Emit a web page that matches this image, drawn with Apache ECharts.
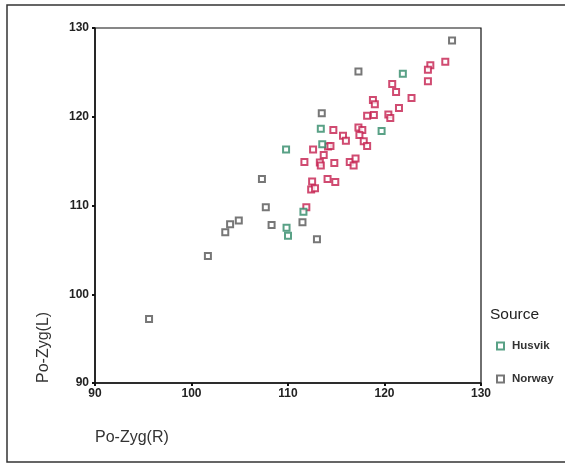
<!DOCTYPE html>
<html>
<head>
<meta charset="utf-8">
<script src="https://cdn.jsdelivr.net/npm/echarts@6/dist/echarts.min.js"></script>
<style>html,body{margin:0;padding:0;background:#fff}#c{width:565px;height:465px}</style>
</head>
<body>
<div id="c"></div>
<script>
var xTicks = [90, 100, 110, 120, 130];
var yTicks = [90, 100, 110, 120, 130];
var legendNames = ['Husvik', 'Norway'];

var husvikX = [121.9, 113.4, 119.7, 113.55, 109.8, 109.85, 110.0, 111.6];
var husvikY = [124.85, 118.65, 118.4, 116.9, 116.3, 107.5, 106.6, 109.3];

var norwayX = [127.0, 117.3, 113.5, 107.3, 107.7, 108.3, 104.9, 104.0, 103.5, 101.7, 95.6, 111.5, 113.0];
var norwayY = [128.6, 125.1, 120.4, 113.0, 109.8, 107.8, 108.3, 107.9, 107.0, 104.3, 97.2, 108.1, 106.2];

var otherX = [126.3, 124.75, 124.5, 124.5, 120.8, 121.2, 122.8, 118.8, 119.0, 121.5,
  118.2, 118.9, 120.4, 120.6, 114.7, 117.3, 117.7, 117.4, 115.7, 116.0,
  117.85, 118.2, 114.15, 114.4, 112.6, 113.7, 111.7, 113.3, 113.4, 114.8,
  116.4, 117.0, 116.8, 114.1, 114.9, 112.5, 112.4, 112.8, 111.9];
var otherY = [126.2, 125.8, 125.3, 124.0, 123.7, 122.8, 122.1, 121.9, 121.4, 121.0,
  120.1, 120.2, 120.25, 119.85, 118.5, 118.8, 118.5, 117.95, 117.85, 117.3,
  117.25, 116.7, 116.65, 116.7, 116.3, 115.7, 114.9, 114.85, 114.5, 114.8,
  114.9, 115.3, 114.5, 113.0, 112.65, 112.7, 111.8, 111.95, 109.8];

function pairs(xs, ys) { return xs.map(function (x, i) { return [x, ys[i]]; }); }

var chart = echarts.init(document.getElementById('c'), null, {renderer: 'canvas'});
var FONT = 'Liberation Sans, Arial, sans-serif';
var tickFont = {color: '#222', fontSize: 12, fontWeight: 'bold', fontFamily: FONT};

chart.setOption({
  animation: false,
  backgroundColor: '#fff',
  title: {
    text: 'Source', left: 485, top: 302,
    textStyle: {fontSize: 15.5, fontWeight: 'normal', color: '#222', fontFamily: FONT}
  },
  legend: {
    data: legendNames, orient: 'vertical', left: 491, top: 335,
    itemWidth: 7, itemHeight: 7, itemGap: 21,
    textStyle: {fontSize: 11.5, fontWeight: 'bold', color: '#333', fontFamily: FONT, padding: [0, 0, 0, 3]}
  },
  grid: {left: 95, right: 84, top: 28, bottom: 82, show: true, borderColor: '#111', borderWidth: 1.2},
  xAxis: {
    type: 'value', min: 90, max: 130, interval: 10,
    name: 'Po-Zyg(R)', nameLocation: 'start', nameGap: 0,
    nameTextStyle: {fontSize: 16, color: '#333', fontFamily: FONT, align: 'left', verticalAlign: 'top', padding: [47, 0, 0, 0]},
    axisLine: {lineStyle: {color: '#111', width: 1.5}},
    axisTick: {show: true, length: 3, lineStyle: {color: '#111', width: 2}},
    axisLabel: Object.assign({margin: 5, formatter: function (v) { return xTicks.indexOf(v) >= 0 ? String(v) : ''; }}, tickFont),
    splitLine: {show: false}
  },
  yAxis: {
    type: 'value', min: 90, max: 130, interval: 10,
    name: 'Po-Zyg(L)', nameLocation: 'start', nameRotate: 90, nameGap: 0,
    nameTextStyle: {fontSize: 16, color: '#333', fontFamily: FONT, align: 'left', verticalAlign: 'bottom', padding: [0, 0, 43, 0]},
    axisLine: {lineStyle: {color: '#111', width: 1.5}},
    axisTick: {show: true, length: 3, lineStyle: {color: '#111', width: 2}},
    axisLabel: Object.assign({margin: 6, formatter: function (v) { return yTicks.indexOf(v) >= 0 ? String(v) : ''; }}, tickFont),
    splitLine: {show: false}
  },
  graphic: [
    {type: 'polyline', shape: {points: [[565, 5], [7, 5], [7, 462], [565, 462]]}, style: {stroke: '#333', lineWidth: 1.5, fill: null}, silent: true}
  ],
  series: [
    {name: 'Other', type: 'scatter', symbol: 'emptyRect', symbolSize: 6, data: pairs(otherX, otherY),
      itemStyle: {color: '#c41e4e', borderWidth: 1.5}},
    {name: 'Husvik', type: 'scatter', symbol: 'emptyRect', symbolSize: 6, data: pairs(husvikX, husvikY),
      itemStyle: {color: '#2f8a68', borderWidth: 1.5}},
    {name: 'Norway', type: 'scatter', symbol: 'emptyRect', symbolSize: 6, data: pairs(norwayX, norwayY),
      itemStyle: {color: '#555555', borderWidth: 1.5}}
  ]
});
</script>
</body>
</html>
